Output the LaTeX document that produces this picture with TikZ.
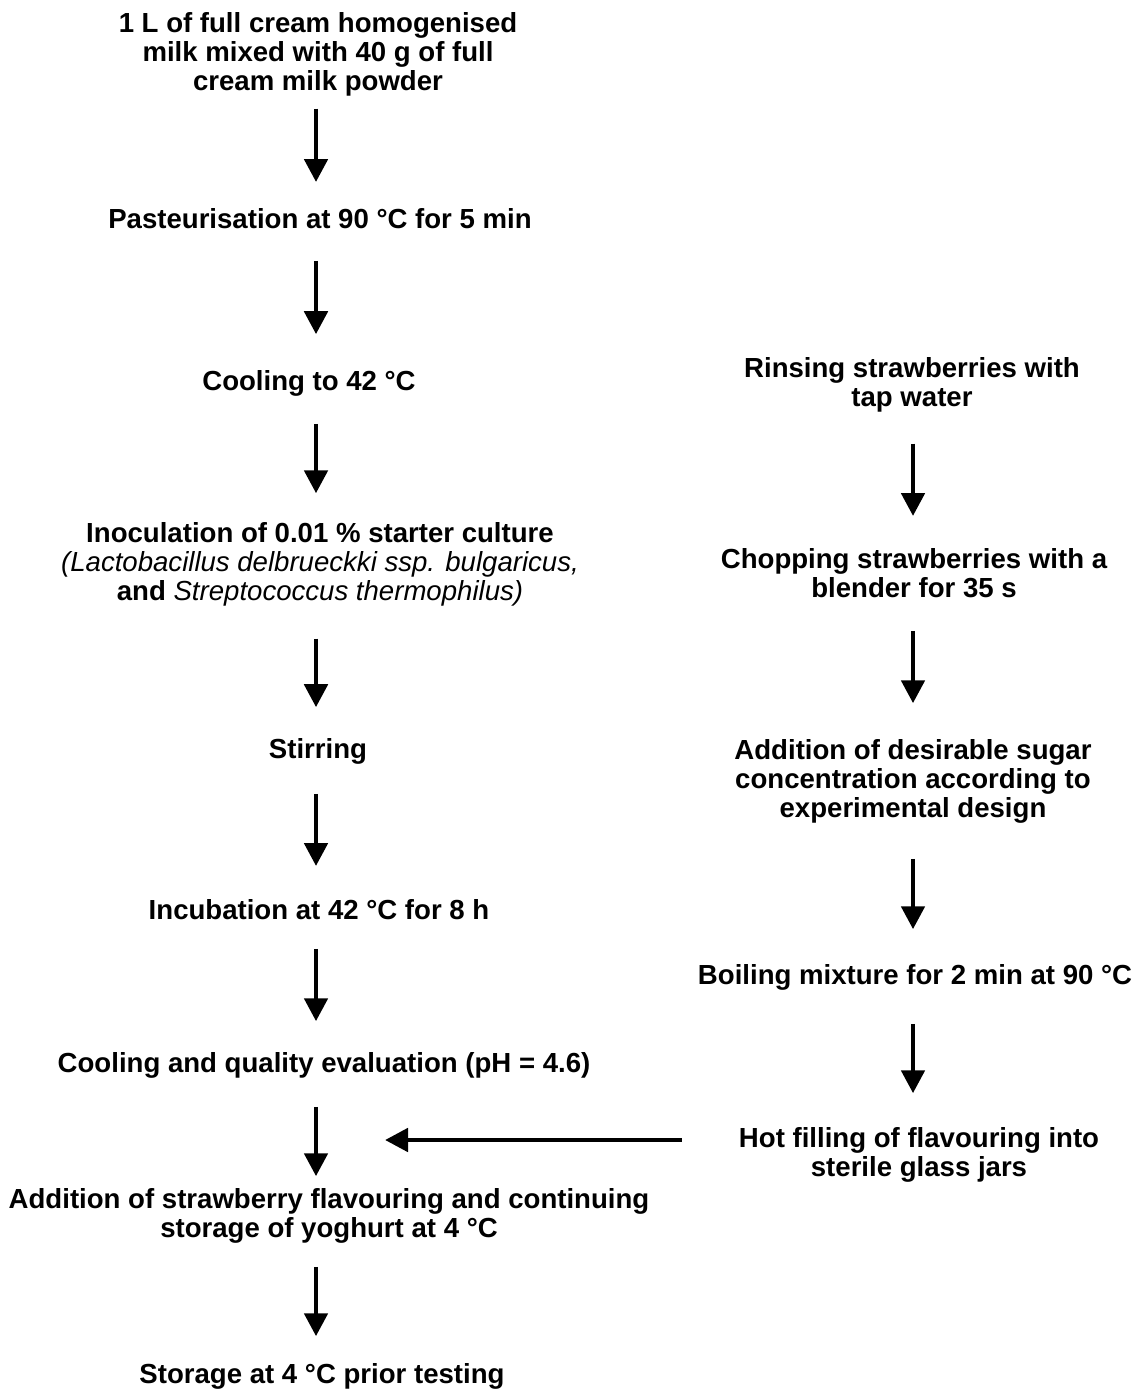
\documentclass[tikz,border=0pt]{standalone}
\usepackage{fontspec}
\setmainfont{Liberation Sans}
\usetikzlibrary{arrows.meta}

\begin{document}
\begin{tikzpicture}[
    x=0.02cm, y=-0.02cm,
    every node/.style={font=\bfseries\fontsize{15.7}{16.5}\selectfont},
    stage/.style={align=center, inner sep=0pt},
    flow/.style={line width=2.8pt, -{Triangle[width=0.46cm, length=0.46cm]}}
]
\useasboundingbox (0,0) rectangle (1138,1392);

% Arrow axes of the two columns
\coordinate (axL) at (316,0);
\coordinate (axR) at (913,0);

% Yoghurt line (left)
\node[stage] (milk)   at (318,54)   {1 L of full cream homogenised\\milk mixed with 40 g of full\\cream milk powder};
\node[stage] (past)   at (320,219)  {Pasteurisation at 90 °C for 5 min};
\node[stage] (cool)   at (309,383)  {Cooling to 42 °C};
\node[stage] (inoc)   at (320,564)  {Inoculation of 0.01 \% starter culture\\{\mdseries\itshape(Lactobacillus delbrueckki ssp. bulgaricus,}\\and {\mdseries\itshape Streptococcus thermophilus)}};
\node[stage] (stir)   at (318,751)  {Stirring};
\node[stage] (incub)  at (319,910)  {Incubation at 42 °C for 8 h};
\node[stage] (qual)   at (324,1065) {Cooling and quality evaluation (pH = 4.6)};
\node[stage] (addfl)  at (329,1216) {Addition of strawberry flavouring and continuing\\storage of yoghurt at 4 °C};
\node[stage] (store)  at (322,1376) {Storage at 4 °C prior testing};

% Flavouring line (right)
\node[stage] (rinse)  at (912,385)  {Rinsing strawberries with\\tap water};
\node[stage] (chop)   at (914,573)  {Chopping strawberries with a\\blender for 35 s};
\node[stage] (sugar)  at (913,781)  {Addition of desirable sugar\\concentration according to\\experimental design};
\node[stage] (boil)   at (915,977)  {Boiling mixture for 2 min at 90 °C};
\node[stage] (hotfill) at (919,1155) {Hot filling of flavouring into\\sterile glass jars};

% Arrows, left
\draw[flow, shorten <=0.25cm, shorten >=0.53cm] (milk.south -| axL)  -- (past.north -| axL);
\draw[flow, shorten <=0.63cm, shorten >=0.71cm] (past.south -| axL)  -- (cool.north -| axL);
\draw[flow, shorten <=0.55cm, shorten >=0.57cm] (cool.south -| axL)  -- (inoc.north -| axL);
\draw[flow, shorten <=0.65cm, shorten >=0.61cm] (inoc.south -| axL)  -- (stir.north -| axL);
\draw[flow, shorten <=0.59cm, shorten >=0.67cm] (stir.south -| axL)  -- (incub.north -| axL);
\draw[flow, shorten <=0.57cm, shorten >=0.61cm] (incub.south -| axL) -- (qual.north -| axL);
\draw[flow, shorten <=0.57cm, shorten >=0.24cm] (qual.south -| axL)  -- (addfl.north -| axL);
\draw[flow, shorten <=0.46cm, shorten >=0.53cm] (addfl.south -| axL) -- (store.north -| axL);

% Arrows, right
\draw[flow, shorten <=0.62cm, shorten >=0.64cm] (rinse.south -| axR) -- (chop.north -| axR);
\draw[flow, shorten <=0.66cm, shorten >=0.71cm] (chop.south -| axR)  -- (sugar.north -| axR);
\draw[flow, shorten <=0.71cm, shorten >=0.69cm] (sugar.south -| axR) -- (boil.north -| axR);
\draw[flow, shorten <=0.67cm, shorten >=0.68cm] (boil.south -| axR)  -- (hotfill.north -| axR);

% Flavouring into yoghurt
\coordinate (join) at (385,1140);
\draw[flow, shorten <=1.14cm] (hotfill.west |- join) -- (join);

\end{tikzpicture}
\end{document}
